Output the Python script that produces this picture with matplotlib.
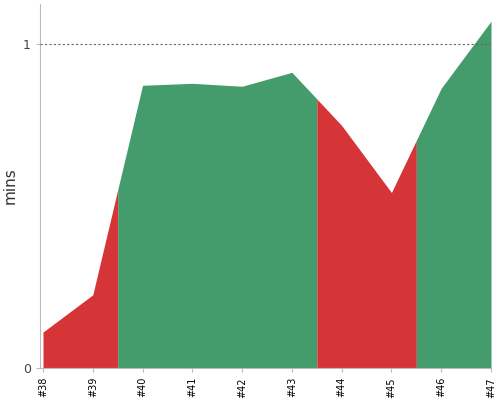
import numpy as np
import matplotlib.pyplot as plt

builds = [38, 39, 40, 41, 42, 43, 44, 45, 46, 47]
durations = [0.111, 0.226, 0.873, 0.879, 0.870, 0.913, 0.749, 0.542, 0.864, 1.071]
failed = [True, True, False, False, False, False, True, True, False, False]
labels = [f'#{b}' for b in builds]

red = '#d63537'
green = '#449c6c'

fig = plt.figure(figsize=(5, 4), dpi=100)
ax = fig.add_axes([0.08, 0.08, 0.902, 0.91])

x = np.array(builds, dtype=float)
y = np.array(durations)

# group consecutive builds with the same status; each run covers
# the half-step on both sides of its builds
runs = []
start = 0
for i in range(1, len(builds) + 1):
    if i == len(builds) or failed[i] != failed[start]:
        runs.append((start, i - 1, failed[start]))
        start = i

for a, b, f in runs:
    lo = max(x[a] - 0.5, x[0])
    hi = min(x[b] + 0.5, x[-1])
    xs = np.array([lo] + [v for v in x if lo < v < hi] + [hi])
    ys = np.interp(xs, x, y)
    ax.fill_between(xs, 0, ys, color=red if f else green, linewidth=0)

ax.axhline(1, color='#666666', lw=0.8, linestyle=(0, (2, 2)), zorder=5)

ax.set_xlim(37.94, 47)
ax.set_ylim(0, 1.124)
ax.set_xticks(builds)
ax.set_xticklabels(labels, rotation=90, fontsize=7)
ax.set_yticks([0, 1])
ax.set_yticklabels(['0', '1'], fontsize=9)
ax.set_ylabel('mins', fontsize=11, color='#333333')

for s in ['top', 'right']:
    ax.spines[s].set_visible(False)
for s in ['left', 'bottom']:
    ax.spines[s].set_color('#bbbbbb')
ax.tick_params(axis='both', colors='#bbbbbb', length=3)
for t in ax.get_xticklabels():
    t.set_color('black')
for t in ax.get_yticklabels():
    t.set_color('#444444')

fig.savefig('out.png')
